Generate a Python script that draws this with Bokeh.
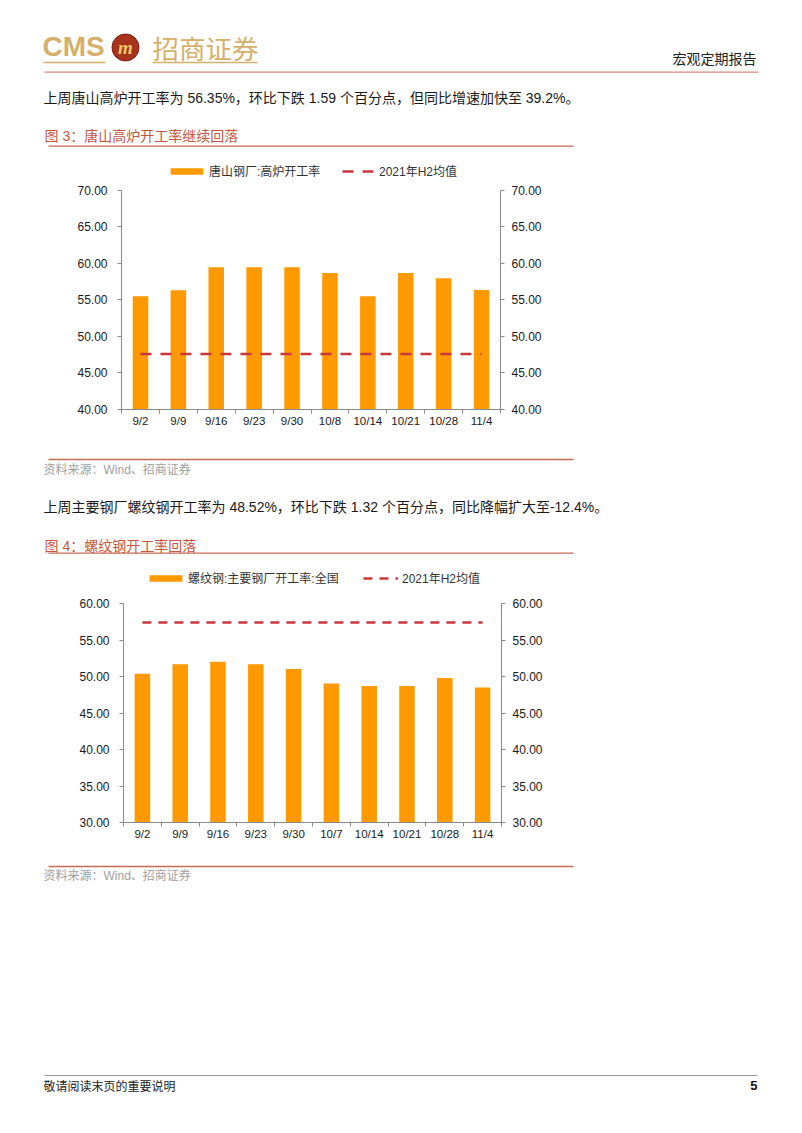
from bokeh.plotting import figure
from bokeh.layouts import column
from bokeh.models import (Range1d, Label, Legend, LegendItem, FixedTicker,
                          LinearAxis, PrintfTickFormatter)
from bokeh.embed import file_html
from bokeh.resources import INLINE

# ---------------- data ----------------
dates1 = ["9/2", "9/9", "9/16", "9/23", "9/30", "10/8", "10/14", "10/21", "10/28", "11/4"]
tangshan_rate = [55.5, 56.3, 59.45, 59.45, 59.45, 58.65, 55.5, 58.65, 57.94, 56.35]
tangshan_h2_avg = 47.6
y_ticks1 = [40, 45, 50, 55, 60, 65, 70]

dates2 = ["9/2", "9/9", "9/16", "9/23", "9/30", "10/7", "10/14", "10/21", "10/28", "11/4"]
rebar_rate = [50.4, 51.72, 52.05, 51.72, 51.08, 49.07, 48.75, 48.75, 49.84, 48.52]
rebar_h2_avg = 57.45
y_ticks2 = [30, 35, 40, 45, 50, 55, 60]

series1_name = "唐山钢厂:高炉开工率"
series2_name = "螺纹钢:主要钢厂开工率:全国"
avg_name = "2021年H2均值"

# ---------------- styles ----------------
W = 802
BAR = "#FF9900"
DASH = "#C8373A"
AXIS = "#8A8A8A"
GOLD = "#D5B06A"
TITLE = "#C2583F"
RULE = "#C86A55"
MIX = "Liberation Sans, Noto Sans CJK SC"
CJK = "Noto Sans CJK SC"


def deco(h):
    p = figure(width=W, height=h, x_range=Range1d(0, W), y_range=Range1d(h, 0),
               x_axis_type=None, y_axis_type=None, output_backend="svg",
               toolbar_location=None, min_border=0, frame_align=False)
    p.grid.visible = False
    p.outline_line_color = None
    return p


def label(p, x, y, text, size, color="#1a1a1a", font=MIX, align="left", style="normal"):
    p.add_layout(Label(x=x, y=y, text=text, text_font=font, text_font_size=f"{size}px",
                       text_color=color, text_align=align, text_baseline="middle",
                       text_font_style=style))


def rule(p, x0, x1, y, color, width=1.3):
    p.segment(x0=[x0], y0=[y], x1=[x1], y1=[y], line_color=color, line_width=width)


def chart(cats, vals, avg, ticks, name, height, b_top, b_bottom, b_left, b_right,
          axis_px, dash, leg_y, leg1_x, leg2_x, leg2_w, leg2_standoff):
    n = len(cats)
    xs = [i + 0.5 for i in range(n)]
    frame_h = height - b_top - b_bottom
    # the frame reaches above the top tick so the legend can sit inside it
    y_end = ticks[0] + (ticks[-1] - ticks[0]) * frame_h / axis_px
    p = figure(width=W, height=height, x_range=Range1d(0, n),
               y_range=Range1d(ticks[0], y_end), output_backend="svg",
               toolbar_location=None, min_border_top=b_top, min_border_bottom=b_bottom,
               min_border_left=b_left, min_border_right=b_right, frame_align=False)
    p.grid.visible = False
    p.outline_line_color = None

    bars = p.vbar(x=xs, top=vals, bottom=ticks[0], width=0.41, fill_color=BAR,
                  line_color=None)
    avg_line = p.line(x=xs, y=[avg] * n, line_color=DASH, line_width=2.5, line_dash=dash)

    # x axis: labels at centres, ticks at category boundaries
    xa = p.xaxis[0]
    xa.ticker = FixedTicker(ticks=xs, minor_ticks=list(range(n + 1)))
    xa.major_label_overrides = {x: c for x, c in zip(xs, cats)}
    xa.major_tick_out = 0
    xa.major_tick_in = 0
    xa.minor_tick_out = 4
    xa.minor_tick_in = 0
    xa.major_label_standoff = 1

    ya = p.yaxis[0]
    ra = LinearAxis()
    p.add_layout(ra, "right")
    for ax in (ya, ra):
        ax.ticker = FixedTicker(ticks=ticks)
        ax.bounds = (ticks[0], ticks[-1])
        ax.formatter = PrintfTickFormatter(format="%.2f")
        ax.major_tick_out = 4
        ax.major_tick_in = 0
        ax.minor_tick_out = 0
        ax.minor_tick_in = 0
        ax.major_label_text_font_size = "12px"
    ya.major_label_standoff = 10
    ra.major_label_standoff = 7
    for ax in (xa, ya, ra):
        ax.axis_line_color = AXIS
        ax.major_tick_line_color = AXIS
        ax.minor_tick_line_color = AXIS
        ax.major_label_text_font = "Liberation Sans"
        ax.major_label_text_color = "#1a1a1a"
    xa.major_label_text_font_size = "11.5px"

    common = dict(orientation="horizontal", padding=0, margin=0, border_line_alpha=0,
                  background_fill_alpha=0, label_text_font=MIX, label_text_font_size="12px",
                  label_text_color="#333333", label_height=8, glyph_height=8,
                  label_text_baseline="middle")
    l1 = Legend(items=[LegendItem(label=name, renderers=[bars])], location=(leg1_x, leg_y),
                glyph_width=41, label_standoff=2, **common)
    l2 = Legend(items=[LegendItem(label=avg_name, renderers=[avg_line])],
                location=(leg2_x, leg_y), glyph_width=leg2_w, label_standoff=leg2_standoff,
                **common)
    p.add_layout(l1, "center")
    p.add_layout(l2, "center")
    return p


# ---------------- header block (page y 0-155) ----------------
f1 = deco(155)
label(f1, 42, 46, "CMS", 28, GOLD, "Liberation Sans", style="bold")
rule(f1, 43, 105, 62, GOLD, 1.6)
f1.ellipse(x=[125], y=[47], width=[27], height=[27], fill_color="#A9331C",
           line_color="#7A2010", line_width=1)
label(f1, 125, 47, "m", 19, "#F2C96A", "Liberation Serif", align="center", style="bold italic")
label(f1, 152, 47, "招商证券", 26.5, GOLD, CJK)
rule(f1, 152, 257, 62, GOLD, 1.6)
rule(f1, 44, 758, 71.7, "#D98A7E", 1.3)
label(f1, 756, 57, "宏观定期报告", 14, "#222222", CJK, align="right")
label(f1, 43, 97, "上周唐山高炉开工率为 56.35%，环比下跌 1.59 个百分点，但同比增速加快至 39.2%。", 14)
label(f1, 44, 135, "图 3：唐山高炉开工率继续回落", 14, TITLE)
rule(f1, 48, 573, 145.7, RULE)

# ---------------- chart 1 (page y 155-440) ----------------
f2 = chart(dates1, tangshan_rate, tangshan_h2_avg, y_ticks1, series1_name, 285,
           5, 31, 121, 302, 219.4, "11 9", leg_y=230, leg1_x=45, leg2_x=221, leg2_w=32,
           leg2_standoff=5)

# ---------------- middle block (page y 440-565) ----------------
f3 = deco(125)
rule(f3, 48, 573, 19, RULE)
label(f3, 43, 29, "资料来源：Wind、招商证券", 12, "#A0A0A0")
label(f3, 43, 66, "上周主要钢厂螺纹钢开工率为 48.52%，环比下跌 1.32 个百分点，同比降幅扩大至-12.4%。", 14)
label(f3, 44, 105, "图 4：螺纹钢开工率回落", 14, TITLE)
rule(f3, 48, 573, 112.7, RULE)

# ---------------- chart 2 (page y 565-855) ----------------
f4 = chart(dates2, rebar_rate, rebar_h2_avg, y_ticks2, series2_name, 290,
           5, 33, 123, 301, 218.6, "9 7", leg_y=236, leg1_x=22, leg2_x=240, leg2_w=35,
           leg2_standoff=4)

# ---------------- bottom block (page y 855-1133) ----------------
f5 = deco(278)
rule(f5, 48, 573, 11, RULE)
label(f5, 43, 20, "资料来源：Wind、招商证券", 12, "#A0A0A0")
rule(f5, 44, 757, 220, "#9A9A9A", 1.2)
label(f5, 43, 230, "敬请阅读末页的重要说明", 12, "#222222", CJK)
label(f5, 757, 230, "5", 13, "#111111", "Liberation Sans", align="right", style="bold")

page = column(f1, f2, f3, f4, f5, spacing=0)
open("out.html", "w").write(file_html(page, INLINE))
